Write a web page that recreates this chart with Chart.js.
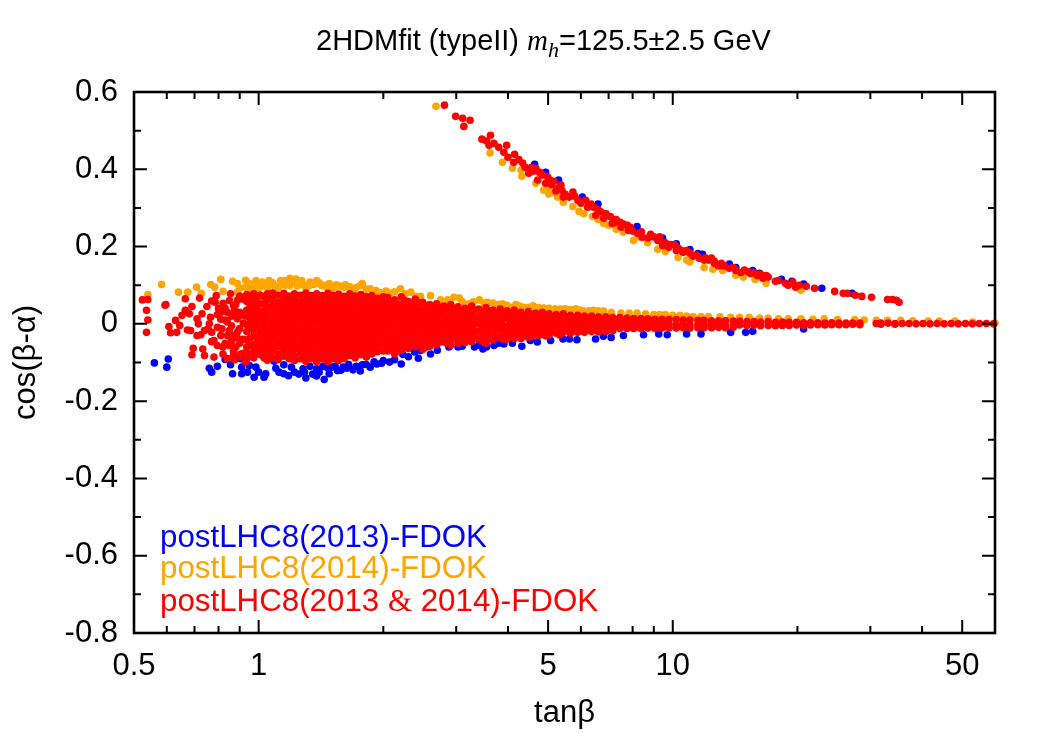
<!DOCTYPE html>
<html lang="en">
<head>
<meta charset="UTF-8">
<title>2HDMfit (typeII)</title>
<script src="https://cdn.jsdelivr.net/npm/chart.js@4"></script>
<style>
  html, body { margin: 0; background: #fff; }
  canvas { display: block; }
</style>
</head>
<body>
<canvas id="chart" width="1050" height="733"></canvas>
<script>
// tick positions
const xMajorTicks = [0.5, 1, 5, 10, 50];
const xMinorTicks = [0.6, 0.7, 0.8, 0.9, 2, 3, 4, 6, 7, 8, 9, 20, 30, 40];
const yMajorTicks = [-0.8, -0.6, -0.4, -0.2, 0, 0.2, 0.4, 0.6];
const yMinorTicks = [-0.7, -0.5, -0.3, -0.1, 0.1, 0.3, 0.5];
const legendNames = ['postLHC8(2013)-FDOK', 'postLHC8(2014)-FDOK', 'postLHC8(2013 ', '&', ' 2014)-FDOK'];

// [tanb, cos(b-a)] points, upper branch
const blueUpper = [[4.64,.413],[4.93,.392],[5.3,.372],[6.05,.328],[6.6,.31],[8.2,.252],[9.45,.222],[10.2,.207],[11,.192],[11.5,.182],[11.8,.18],
  [13.7,.155],[14.2,.146],[15.6,.138],[16.2,.131],[18.3,.115],[19.4,.11],[20.7,.103],[22.9,.092],[27.1,.079]];
const orangeUpper = [[2.68,.563],[3.62,.442],[3.88,.418],[4.1,.403],[4.32,.382],[4.3,.398],[4.67,.364],[4.88,.346],[5.02,.336],[5.27,.328],[5.44,.315],[5.74,.304],
  [5.94,.291],[6.4,.278],[6.81,.26],[7.59,.237],[8.04,.216],[9.2,.193],[10.3,.172],[10.8,.165],[11.9,.146],[12.5,.141],[14.2,.126],[14.8,.121],[15.8,.115],[16.8,.105],[20.4,.087],
  [5,.35],[5.15,.34],[6.1,.285],[6.6,.27],[7,.255],[7.3,.245],[8.3,.225],[8.7,.21],[9.6,.187],[11,.16],[13.2,.138]];
const redUpper = [[2.81,.566],[2.99,.537],[3.11,.532],[3.24,.527],[3.13,.511],[3.46,.478],[3.63,.488],[3.55,.473],[3.6,.462],[3.7,.467],[3.8,.457],[3.97,.462],[3.91,.444],
  [4.15,.439],[4,.431],[4.13,.418],[4.34,.416],[4.56,.405],[4.49,.39],[4.67,.402],[4.77,.392],[4.72,.372],[4.99,.38],[5.16,.369],[4.93,.364],[5.37,.359],[5.22,.344],[5.3,.352],
  [5.44,.328],[5.74,.341],[5.62,.328],[5.9,.32],[6.16,.32],[6.23,.302],[6.44,.302],[6.52,.281],[6.7,.29],[7.07,.278],[6.81,.273],[7.14,.26],[7.46,.263],[7.77,.255],[7.81,.242],
  [8.22,.234],[8.44,.224],[8.84,.232],[9.2,.216],[9.45,.203],[9.78,.198],[10.3,.196],[10.6,.185],[11,.183],[11.6,.17],[12.2,.165],[12.6,.157],[12,.17],[12.6,.162],[13.1,.157],
  [13.7,.144],[14.6,.133],[14.9,.139],[15.7,.133],[16.5,.118],[17,.121],[17.7,.11],[18.7,.105],[19.5,.108],[20.2,.1],[21,.097],[22,.092],[24.6,.084],[25.8,.079],[26.4,.079],
  [27.6,.074],[28.6,.071],[30.2,.069],[33,.063],[33.9,.063],[34.7,.061],[35.2,.056],
  [7.3,.27],[7.5,.25],[7.9,.25],[8,.24],[8.4,.238],[8.7,.222],[9,.225],[9.3,.225],[9.6,.21],[9.9,.205],[10.1,.205],[10.5,.19],[10.2,.19],[10.8,.19],[11.2,.175],[11.4,.178],
  [11.9,.165],[12.4,.17],[12.9,.15],[13.3,.15],[14,.146],[14.2,.138],[15.2,.135],[15.4,.13],[16,.125],[16.8,.125],[16.3,.128],[18,.112],[19,.1],[19.8,.095],
  [4.25,.425],[4.4,.405],[4.6,.395],[4.85,.385],[5.05,.372],[5.1,.36],[5.4,.345],[5.5,.335],[5.8,.33],[6,.312],[6.35,.31],[6.6,.295],[6.9,.285],[7.25,.262],[7.6,.258]];

// lower band edges showing behind the red cloud
const blueLower = [[.56,-.101],[.605,-.091],[.6,-.112],[.76,-.115],[.77,-.125],[.795,-.11],[.83,-.092],[.855,-.106],[.865,-.129],[.91,-.129],[.91,-.112],[.905,-.09],[.94,-.125],
  [.95,-.108],[.975,-.138],[.985,-.112],[1.03,-.138],[1.04,-.129],[1.09,-.097],[1.15,-.129],[1.18,-.134],[1.15,-.106],[1.2,-.112],[1.28,-.116],[1.3,-.14],[1.29,-.125],[1.33,-.11],
  [1.38,-.116],[1.4,-.125],[1.44,-.144],[1.48,-.129],[1.43,-.11],[1.5,-.112],[1.55,-.121],[1.6,-.112],[1.69,-.119],[1.76,-.122],[1.65,-.105],[1.78,-.106],[1.86,-.112],[1.93,-.104],
  [1.98,-.102],[2.07,-.099],[2.13,-.093],[2.21,-.104],[2.23,-.079],[2.43,-.089],[2.38,-.073],[2.46,-.069],[2.6,-.078],[2.88,-.06],[3.03,-.06],[3.32,-.06],[3.48,-.065],[3.55,-.06],
  [3.7,-.056],[3.91,-.052],[4.32,-.058],[4.53,-.043],[4.71,-.047],[5.07,-.043],[5.43,-.039],[5.63,-.039],[5.87,-.041],[6.51,-.039],[6.8,-.032],[7.1,-.035],[7.6,-.03],[8.5,-.028],
  [9.25,-.026],[9.7,-.028],[10.8,-.026],[11.7,-.026],[13.8,-.022],[15,-.022],[15.6,-.019],[20.7,-.013],
  [1,-.125],[1.1,-.115],[1.12,-.125],[1.22,-.125],[1.25,-.13],[1.35,-.13],[1.38,-.135],[1.47,-.115],[1.53,-.11],[1.58,-.12],[1.63,-.115],[1.72,-.11],[1.82,-.105],[1.9,-.098],[2,-.095],
  [2.3,-.085],[2.7,-.068],[3.1,-.058],[3.4,-.055],[3.8,-.05],[4.1,-.05]];
const orangeLower = [[.54,.076],[.583,.102],[.64,.082],[.674,.082],[.708,.095],[.727,.079],[.766,.102],[.783,.095],[.81,.115],[.82,.084],[.865,.11],[.888,.104],[.93,.113],[.95,.104],
  [.985,.112],[.888,.082],[1.03,.099],[1.06,.112],[1.09,.099],[1.13,.112],[1.16,.112],[1.19,.118],[1.23,.116],[1.19,.099],[1.27,.112],[1.33,.108],[1.38,.112],[1.42,.099],[1.46,.095],
  [1.54,.101],[1.61,.095],[1.66,.096],[1.76,.099],[1.78,.104],[1.8,.076],[1.86,.091],[1.98,.081],[2.03,.085],[2.13,.083],[2.2,.091],[2.33,.082],[2.4,.071],[2.46,.071],[2.6,.073],
  [2.75,.062],[2.86,.062],[2.96,.069],[3.05,.067],[3.22,.052],[3.41,.062],[3.57,.056],[3.68,.054],[3.88,.052],[4.07,.043],[4.18,.05],[4.37,.043],[4.6,.047],[4.88,.041],[5.2,.039],
  [5.5,.039],[5.83,.039],[6.1,.033],[6.43,.035],[6.8,.033],[7.5,.028],[8.2,.028],[9,.024],[9.6,.024],[10.4,.022],[11.2,.019],[12.2,.019],[13.8,.017],[15.3,.017],[17,.015],[18,.013],
  [20.4,.013],[23.2,.013],[27.5,.011],[31,.009],[35.5,.009],[41.4,.007],[48,.007],[60,.002],[1.3,.095],[1.5,.088],[1.1,.09],[1,.09],[1.7,.085],[1.9,.078],
  [.9,.092],[.93,.095],[.96,.09],[.99,.098],[1.02,.108],[1.05,.094],[1.08,.106],[1.12,.096],[1.16,.1],[1.2,.108],[1.24,.098],[1.28,.102],[1.32,.097],[1.36,.102],[1.4,.106],[1.44,.1],
  [1.48,.104],[1.52,.094],[1.57,.098],[1.62,.101],[1.67,.09],[1.72,.094],[1.82,.09],[1.92,.086],[2.08,.08],[2.26,.078],
  [3.1,.058],[3.3,.057],[3.5,.054],[3.78,.05],[3.98,.048],[4.27,.046],[4.48,.043],[4.74,.042],[5.03,.04],[5.35,.038],[5.66,.037],[5.97,.036],[6.27,.034],[6.6,.034],[7.1,.03],[7.85,.028],
  [8.6,.026],[9.3,.024],[10,.022],[10.8,.02],[11.7,.019],[13,.018],[14.5,.017],[16.2,.015],[19,.013],[21.8,.012],[25,.011],[29,.01],[33,.009],[38,.008],[44,.007],[53,.005]];
const redLeft = [[.524,.062],[.54,.063],[.536,.035],[.54,.01],[.536,-.022],[.594,.048],[.597,.05],[.665,.065],[.72,.067],[.607,-.007],[.613,-.023],[.634,-.022],[.63,.009],[.653,.022],
  [.665,.035],[.69,.045],[.68,.026],[.645,-.004],[.673,-.016],[.685,-.017],[.71,.013],[.715,0],[.71,-.03],[.725,-.028],[.73,.026],[.75,.045],[.785,.056],[.79,.073],[.77,.059],[.82,.053],
  [.87,.047],[.875,.035],[.765,.017],[.795,.024],[.76,0],[.755,-.013],[.74,-.017],[.795,-.009],[.83,.01],[.888,.013],[.815,-.013],[.85,-.017],[.77,-.022],[.77,-.046],[.795,-.056],
  [.78,-.043],[.83,-.05],[.888,-.036],[.695,-.063],[.733,-.065],[.69,-.08],[.74,-.082],[.78,-.086],[.82,-.078],[.87,-.071],[.875,-.093],[.93,-.099],[.85,-.056],[.905,-.078],[.855,.078],[.89,.062],
  [.8,.04],[.81,.03],[.84,.03],[.86,.02],[.88,.03],[.83,.04],[.85,.06],[.88,.05],[.86,-.005],[.87,-.03],[.84,-.03],[.81,-.03],[.82,-.06],[.88,-.06],[.86,-.045],[.89,-.02],[.84,.005],[.81,.012],[.87,-.08],[.84,-.09]];
// red cloud, one row per tanb: [tanb, [cos values]]
const redBand = [
  [.9,[.072,.03,-.012,-.05,-.085]],[.936,[.076,.058,.036,.02,-.002,-.02,-.042,-.06,-.074,-.092]],[.973,[.078,.06,.04,.018,.002,-.016,-.03,-.052,-.07,-.088]],
  [1.01,[.074,.052,.032,.014,-.006,-.026,-.044,-.062,-.08]],[1.05,[.078,.062,.044,.026,.008,-.01,-.028,-.046,-.064,-.082,-.094]],
  [1.08,[.08,.064,.047,.03,.012,-.004,-.02,-.036,-.054,-.07,-.088]],[1.115,[.074,.056,.04,.022,.006,-.01,-.027,-.044,-.06,-.078,-.092]],[1.15,[.079,.063,.048,.031,.014,-.002,-.019,-.035,-.051,-.067,-.084]],
  [1.185,[.072,.055,.039,.023,.007,-.009,-.026,-.042,-.058,-.075,-.09]],[1.22,[.078,.062,.046,.03,.015,-.002,-.018,-.033,-.05,-.066,-.083,-.095]],[1.26,[.074,.057,.04,.024,.008,-.008,-.024,-.041,-.057,-.073,-.09]],
  [1.3,[.08,.063,.046,.031,.014,-.003,-.018,-.034,-.05,-.066,-.082,-.097]],[1.34,[.073,.056,.039,.023,.007,-.009,-.026,-.042,-.058,-.074,-.09]],[1.38,[.078,.062,.047,.03,.015,-.001,-.018,-.034,-.05,-.067,-.083,-.098]],
  [1.425,[.073,.055,.04,.024,.008,-.008,-.025,-.041,-.057,-.074,-.091]],[1.47,[.079,.062,.047,.031,.014,-.002,-.017,-.033,-.05,-.066,-.082,-.098]],[1.515,[.073,.056,.04,.023,.007,-.01,-.025,-.042,-.058,-.074,-.09]],
  [1.56,[.077,.063,.046,.03,.015,-.002,-.018,-.034,-.05,-.066,-.082,-.095]],[1.61,[.071,.055,.039,.024,.008,-.009,-.025,-.041,-.057,-.073,-.09]],[1.66,[.078,.062,.047,.031,.014,-.002,-.018,-.034,-.05,-.065,-.082]],
  [1.71,[.072,.056,.04,.023,.007,-.009,-.026,-.042,-.058,-.074,-.088]],[1.765,[.076,.061,.046,.03,.014,-.003,-.018,-.034,-.05,-.066,-.08]],[1.82,[.07,.054,.038,.022,.006,-.01,-.026,-.042,-.058,-.074,-.086]],
  [1.875,[.073,.06,.044,.029,.013,-.002,-.018,-.034,-.05,-.066,-.078]],[1.935,[.066,.052,.036,.02,.005,-.011,-.027,-.043,-.058,-.072]],[2,[.07,.058,.043,.027,.012,-.004,-.02,-.036,-.052,-.07]],
  [2.05,[.068,.05,.033,.015,-.002,-.02,-.037,-.055,-.07]],[2.13,[.062,.042,.026,.008,-.01,-.028,-.044,-.062,-.078]],[2.21,[.07,.05,.034,.016,-.002,-.018,-.036,-.052,-.068]],
  [2.3,[.058,.04,.022,.004,-.014,-.03,-.048,-.064]],[2.39,[.064,.046,.028,.01,-.008,-.026,-.044,-.06]],[2.49,[.056,.036,.02,.002,-.016,-.034,-.05,-.066]],[2.59,[.05,.03,.012,-.006,-.024,-.04,-.058]],
  [2.69,[.052,.034,.016,-.002,-.02,-.038,-.054]],[2.8,[.046,.028,.008,-.01,-.028,-.046]],[2.91,[.05,.03,.012,-.008,-.026,-.044,-.055]],[3.03,[.044,.024,.006,-.012,-.03,-.05]],
  [3.15,[.04,.022,.002,-.016,-.036,-.048]],[3.27,[.046,.026,.008,-.01,-.028,-.046]],[3.4,[.038,.018,0,-.02,-.04]],[3.54,[.042,.022,.004,-.014,-.034,-.05]],[3.68,[.036,.016,-.002,-.022,-.042]],
  [3.83,[.038,.02,.002,-.016,-.036]],[3.98,[.034,.014,-.006,-.024,-.04]],[4.14,[.036,.016,-.002,-.02,-.038]],[4.3,[.03,.012,-.006,-.026,-.038]],[4.48,[.032,.014,-.004,-.022,-.034]],
  [4.66,[.028,.01,-.008,-.026]],[4.84,[.03,.012,-.006,-.024]],[5.03,[.026,.008,-.01,-.028]],[5.23,[.024,.008,-.008,-.024]],[5.44,[.026,.01,-.006,-.022]],[5.66,[.022,.006,-.01,-.024]],
  [5.89,[.022,.006,-.01,-.022]],[6.12,[.02,.004,-.012,-.022]],[6.37,[.02,.004,-.012,-.02]],[6.62,[.018,.004,-.01,-.021]],[6.89,[.018,.002,-.012,-.02]],[7.16,[.016,.002,-.012,-.018]],
  [7.45,[.016,.002,-.012]],[7.75,[.015,.001,-.012]],[8.05,[.014,.001,-.012]],[8.38,[.014,0,-.012]],[8.71,[.013,0,-.011]],[9.06,[.012,-.001,-.012]],[9.42,[.012,-.001,-.011]],[9.8,[.011,-.001,-.011]],
  [10.2,[.011,-.002,-.011]],[10.6,[.01,-.002,-.01]],[11,[.01,-.002,-.011]],[11.5,[.009,-.002,-.01]],[11.9,[.009,-.002,-.01]],[12.4,[.008,-.002,-.01]],[12.9,[.008,-.002,-.009]],[13.4,[.008,-.003,-.01]],
  [14,[.007,-.003,-.009]],[14.5,[.007,-.003]],[15.1,[.006,-.004]],[15.7,[.006,-.003]],[16.3,[.005,-.005]],[17,[.006,-.004]],[17.7,[.004,-.005]],[18.4,[.005,-.004]],[19.1,[.004,-.004]],[19.9,[.004,-.003]],
  [20.7,[.003,-.004]],[21.5,[.003,-.003]],[22.4,[.003,-.002]],[23.3,[.002,-.003]],[24.2,[.003,-.002]],[25.2,[.002,-.002]],[26.2,[.002,-.002]],[27.2,[.002,-.001]],[28.3,[.002,-.002]],[31,[.001]],
  [31.8,[.002,-.001]],[33.1,[.002]],[34.4,[.001,-.001]],[35.8,[.001]],[37.2,[.001]],[38.7,[0]],[40.2,[.001]],[41.8,[0]],[43.5,[.001]],[45.2,[0]],[47,[.001]],[48.9,[0]],[50.9,[.001]],[52.9,[0]],[55,[.001]],[57.2,[.001]],[59.5,[0]],
  // in-between rows, the cloud is solid here in the reference
  [.918,[.064,.022,.002,-.04,-.076]],[.955,[.068,.048,.028,.01,-.01,-.036,-.056,-.08]],[.99,[.066,.046,.025,.008,-.012,-.036,-.056,-.075]],[1.03,[.07,.052,.034,.018,0,-.018,-.036,-.054,-.072,-.088]],
  [2.09,[.058,.041,.024,.006,-.011,-.028,-.046,-.064]],[2.17,[.052,.034,.017,0,-.019,-.036,-.054,-.07]],[2.25,[.061,.042,.025,.007,-.01,-.027,-.044,-.06]],[2.34,[.05,.031,.013,-.005,-.022,-.039,-.056]],
  [2.44,[.054,.037,.019,.001,-.017,-.035,-.052]],[2.54,[.046,.028,.011,-.007,-.025,-.042,-.06]],[2.64,[.042,.022,.004,-.015,-.032,-.049]],[2.75,[.043,.025,.006,-.011,-.029,-.047]],
  [2.85,[.038,.02,.002,-.018,-.036,-.05]],[2.97,[.04,.021,.002,-.017,-.035]],[3.09,[.035,.015,-.003,-.021,-.04]],[3.21,[.034,.015,-.004,-.024,-.042]],[3.33,[.036,.017,-.001,-.019,-.037]],
  [3.47,[.03,.01,-.009,-.029,-.045]],[3.61,[.032,.013,-.005,-.024,-.038]],[3.75,[.027,.007,-.012,-.032]],[3.9,[.029,.011,-.007,-.026,-.04]],[4.06,[.025,.004,-.015,-.032]],[4.22,[.026,.007,-.011,-.029]],
  [4.39,[.023,.003,-.015,-.031]],[4.57,[.022,.002,-.017,-.033]],[4.75,[.021,.002,-.015,-.03]],[4.93,[.02,.002,-.016,-.031]],[5.13,[.017,0,-.018]],[5.33,[.018,.002,-.014,-.029]],[5.55,[.014,-.002,-.017]],
  [5.77,[.015,-.002,-.017]],[6,[.012,-.004,-.018]],[6.25,[.012,-.004,-.016]],[6.5,[.011,-.003,-.016]],[6.75,[.01,-.005,-.016]],[7.02,[.009,-.005,-.015]],[7.3,[.009,-.005]],[7.6,[.008,-.006]],
  [7.9,[.008,-.005]],[8.2,[.007,-.006]],[8.55,[.007,-.006]],[8.9,[.006,-.006]],[9.25,[.006,-.006]],[9.6,[.005,-.006]]
];

function toPoints(pairs) {
  return pairs.map(p => ({ x: p[0], y: p[1] }));
}
const redBandPoints = [];
redBand.forEach(row => row[1].forEach(v => redBandPoints.push({ x: row[0], y: v })));

const SANS = '"Liberation Sans"';
const DOT = 3.8;

// gnuplot style frame: ticks point inwards on all four sides
const framePlugin = {
  id: 'frame',
  afterDraw(chart) {
    const { ctx, chartArea: a, scales: { x, y } } = chart;
    ctx.save();
    ctx.strokeStyle = '#000';
    ctx.lineWidth = 2;
    ctx.beginPath();
    const xTick = (v, len) => {
      const px = x.getPixelForValue(v);
      ctx.moveTo(px, a.bottom); ctx.lineTo(px, a.bottom - len);
      ctx.moveTo(px, a.top); ctx.lineTo(px, a.top + len);
    };
    const yTick = (v, len) => {
      const py = y.getPixelForValue(v);
      ctx.moveTo(a.left, py); ctx.lineTo(a.left + len, py);
      ctx.moveTo(a.right, py); ctx.lineTo(a.right - len, py);
    };
    xMajorTicks.forEach(v => xTick(v, 13));
    xMinorTicks.forEach(v => xTick(v, 7));
    yMajorTicks.forEach(v => yTick(v, 13));
    yMinorTicks.forEach(v => yTick(v, 7));
    ctx.stroke();
    ctx.lineWidth = 2.6;
    ctx.strokeRect(a.left, a.top, a.right - a.left, a.bottom - a.top);
    ctx.restore();
  }
};

// title and legend need mixed fonts, so they are written by hand
const textPlugin = {
  id: 'texts',
  afterDraw(chart) {
    const ctx = chart.ctx;
    const run = (parts, x, y, color) => {
      ctx.fillStyle = color;
      parts.forEach(p => {
        ctx.font = p[1];
        ctx.fillText(p[0], x, y + (p[2] || 0));
        x += ctx.measureText(p[0]).width;
      });
    };
    ctx.save();
    ctx.textAlign = 'left';
    ctx.textBaseline = 'alphabetic';
    const t = '29px ' + SANS;
    const it = 'italic 29px "Liberation Serif"';
    run([['2HDMfit (typeII) ', t], ['m', it], ['h', 'italic 22px "Liberation Serif"', 7], ['=125.5±2.5 GeV', t]], 316, 50, '#000');
    const l = '31.3px ' + SANS;
    run([[legendNames[0], l]], 160, 547, '#0000ff');
    run([[legendNames[1], l]], 160, 578, '#ffa500');
    run([[legendNames[2], l], [legendNames[3], '31px "Liberation Serif"'], [legendNames[4], l]], 160, 611, '#ff0000');
    ctx.restore();
  }
};

new Chart(document.getElementById('chart'), {
  type: 'scatter',
  data: {
    datasets: [
      { label: '2013', data: toPoints(blueUpper.concat(blueLower)), backgroundColor: '#0000ff', pointRadius: DOT, pointBorderWidth: 0, order: 3 },
      { label: '2014', data: toPoints(orangeUpper.concat(orangeLower)), backgroundColor: '#ffa500', pointRadius: DOT, pointBorderWidth: 0, order: 2 },
      { label: '2013 & 2014', data: toPoints(redUpper.concat(redLeft)).concat(redBandPoints), backgroundColor: '#ff0000', pointRadius: DOT, pointBorderWidth: 0, order: 1 }
    ]
  },
  options: {
    responsive: false,
    animation: false,
    clip: false,
    layout: { padding: { top: 92, right: 55, left: 0, bottom: 0 } },
    plugins: { legend: { display: false }, tooltip: { enabled: false } },
    scales: {
      x: {
        type: 'logarithmic',
        min: 0.5,
        max: 60,
        afterBuildTicks: s => { s.ticks = xMajorTicks.map(v => ({ value: v })); },
        afterFit: s => { s.height = 100; },
        grid: { display: false, drawTicks: false },
        border: { display: false },
        ticks: { color: '#000', font: { family: SANS, size: 31 }, padding: 15, maxRotation: 0, autoSkip: false, callback: v => String(v) },
        title: { display: true, text: 'tanβ', color: '#000', font: { family: SANS, size: 31 }, padding: { top: 0, bottom: 1 } }
      },
      y: {
        min: -0.8,
        max: 0.6,
        afterBuildTicks: s => { s.ticks = yMajorTicks.map(v => ({ value: v })); },
        afterFit: s => { s.width = 134; },
        grid: { display: false, drawTicks: false },
        border: { display: false },
        ticks: { color: '#000', font: { family: SANS, size: 31 }, padding: 16, autoSkip: false, callback: v => (Math.abs(v) < 1e-9 ? '0' : String(Math.round(v * 10) / 10)) },
        title: { display: true, text: 'cos(β-α)', color: '#000', font: { family: SANS, size: 31 }, padding: { top: 8, bottom: 0 } }
      }
    }
  },
  plugins: [framePlugin, textPlugin]
});
</script>
</body>
</html>
